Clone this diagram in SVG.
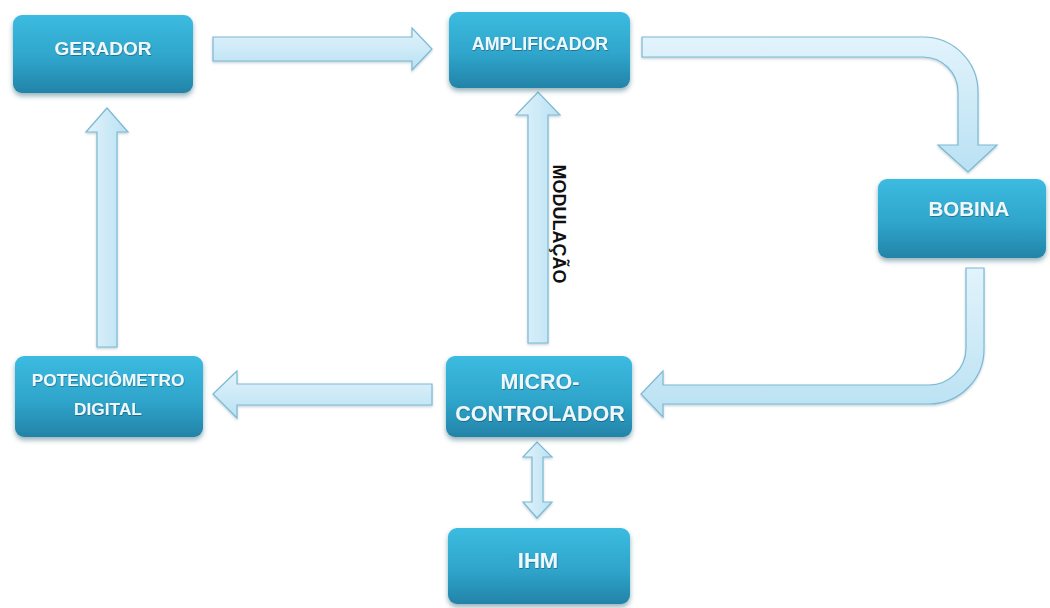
<svg xmlns="http://www.w3.org/2000/svg" width="1050" height="608" viewBox="0 0 1050 608">
<defs>
<linearGradient id="nodeGrad" x1="0" y1="0" x2="0" y2="1">
<stop offset="0" stop-color="#3cbbe0"/>
<stop offset="0.55" stop-color="#2fa5cb"/>
<stop offset="1" stop-color="#2383a8"/>
</linearGradient>
<linearGradient id="arrowGradH" x1="0" y1="0" x2="0" y2="1">
<stop offset="0" stop-color="#e2f3fb"/>
<stop offset="1" stop-color="#b9e1f3"/>
</linearGradient>
<linearGradient id="arrowGradV" x1="0" y1="0" x2="1" y2="0">
<stop offset="0" stop-color="#e2f3fb"/>
<stop offset="1" stop-color="#b9e1f3"/>
</linearGradient>
<filter id="shadow" x="-10%" y="-10%" width="120%" height="135%">
<feDropShadow dx="0" dy="3" stdDeviation="2.5" flood-color="#1d4f63" flood-opacity="0.45"/>
</filter>
<filter id="ashadow" x="-10%" y="-10%" width="120%" height="130%">
<feDropShadow dx="0" dy="1.5" stdDeviation="1.2" flood-color="#5a7f90" flood-opacity="0.35"/>
</filter>
<filter id="tshadow" x="-5%" y="-20%" width="110%" height="150%">
<feDropShadow dx="0.5" dy="1" stdDeviation="0.6" flood-color="#0d3d52" flood-opacity="0.5"/>
</filter>
</defs>
<style>
.node rect { fill: url(#nodeGrad); filter: url(#shadow); }
.node text { font-family: "Liberation Sans", Arial, sans-serif; font-weight: bold; fill: #eef8fc; text-anchor: middle; filter: url(#tshadow); }
.arr { stroke: #7db9d3; stroke-width: 1.2; stroke-linejoin: miter; filter: url(#ashadow); }
.h { fill: url(#arrowGradH); }
.v { fill: url(#arrowGradV); }
.lbl { font-family: "Liberation Sans", Arial, sans-serif; font-weight: bold; fill: #111; font-size: 18px; text-anchor: middle; }
</style>
<rect width="1050" height="608" fill="#ffffff"/>

<g id="connectors">
<!-- GERADOR -> AMPLIFICADOR -->
<path class="arr h" d="M213,37 H412 V28 L432,49 L412,70 V61 H213 Z"/>
<!-- AMPLIFICADOR -> BOBINA (curved) -->
<path class="arr h" d="M642,37 H923 A55,55 0 0 1 978,92 V145 H997 L968,172 L938,145 H958 V92 A35,35 0 0 0 923,57 H642 Z"/>
<!-- BOBINA -> MICRO (curved) -->
<path class="arr h" d="M966,268 H984 V348 A55,55 0 0 1 929,404 H663 V417 L641,394 L663,371 V385 H929 A37,37 0 0 0 966,348 Z"/>
<!-- MICRO -> POTENCIOMETRO -->
<path class="arr h" d="M432,384 V405 H237 V418 L213,394 L237,371 V384 Z"/>
<!-- POTENCIOMETRO -> GERADOR -->
<path class="arr v" d="M97,347 V132 H86 L107,108 L128,132 H117 V347 Z"/>
<!-- MICRO -> AMPLIFICADOR (modulacao) -->
<path class="arr v" d="M528,343 V115 H516 L538,92 L560,115 H548 V343 Z"/>
<!-- MICRO <-> IHM -->
<path class="arr v" d="M532,457 H523 L537,442 L552,457 H543 V502 H552 L537,518 L523,502 H532 Z"/>
<text class="lbl" transform="translate(553,224) rotate(90)">MODULAÇÃO</text>
</g>

<g id="gerador" class="node">
<rect x="13" y="15" width="180" height="78" rx="9"/>
<text x="103" y="55" font-size="19">GERADOR</text>
</g>

<g id="amplificador" class="node">
<rect x="449" y="12" width="181" height="76" rx="9"/>
<text x="540" y="50" font-size="17.8">AMPLIFICADOR</text>
</g>

<g id="bobina" class="node">
<rect x="878" y="179" width="168" height="79" rx="9"/>
<text x="969" y="216" font-size="20.5">BOBINA</text>
</g>

<g id="micro" class="node">
<rect x="446" y="356" width="186" height="81" rx="9"/>
<text x="540" y="389" font-size="21.5">MICRO-</text>
<text x="540" y="421" font-size="21.5">CONTROLADOR</text>
</g>

<g id="potenciometro" class="node">
<rect x="15" y="356" width="188" height="81" rx="9"/>
<text x="108" y="386" font-size="17.3">POTENCIÔMETRO</text>
<text x="108" y="415" font-size="17.3">DIGITAL</text>
</g>

<g id="ihm" class="node">
<rect x="448" y="528" width="182" height="76" rx="9"/>
<text x="538" y="568" font-size="22">IHM</text>
</g>
</svg>
